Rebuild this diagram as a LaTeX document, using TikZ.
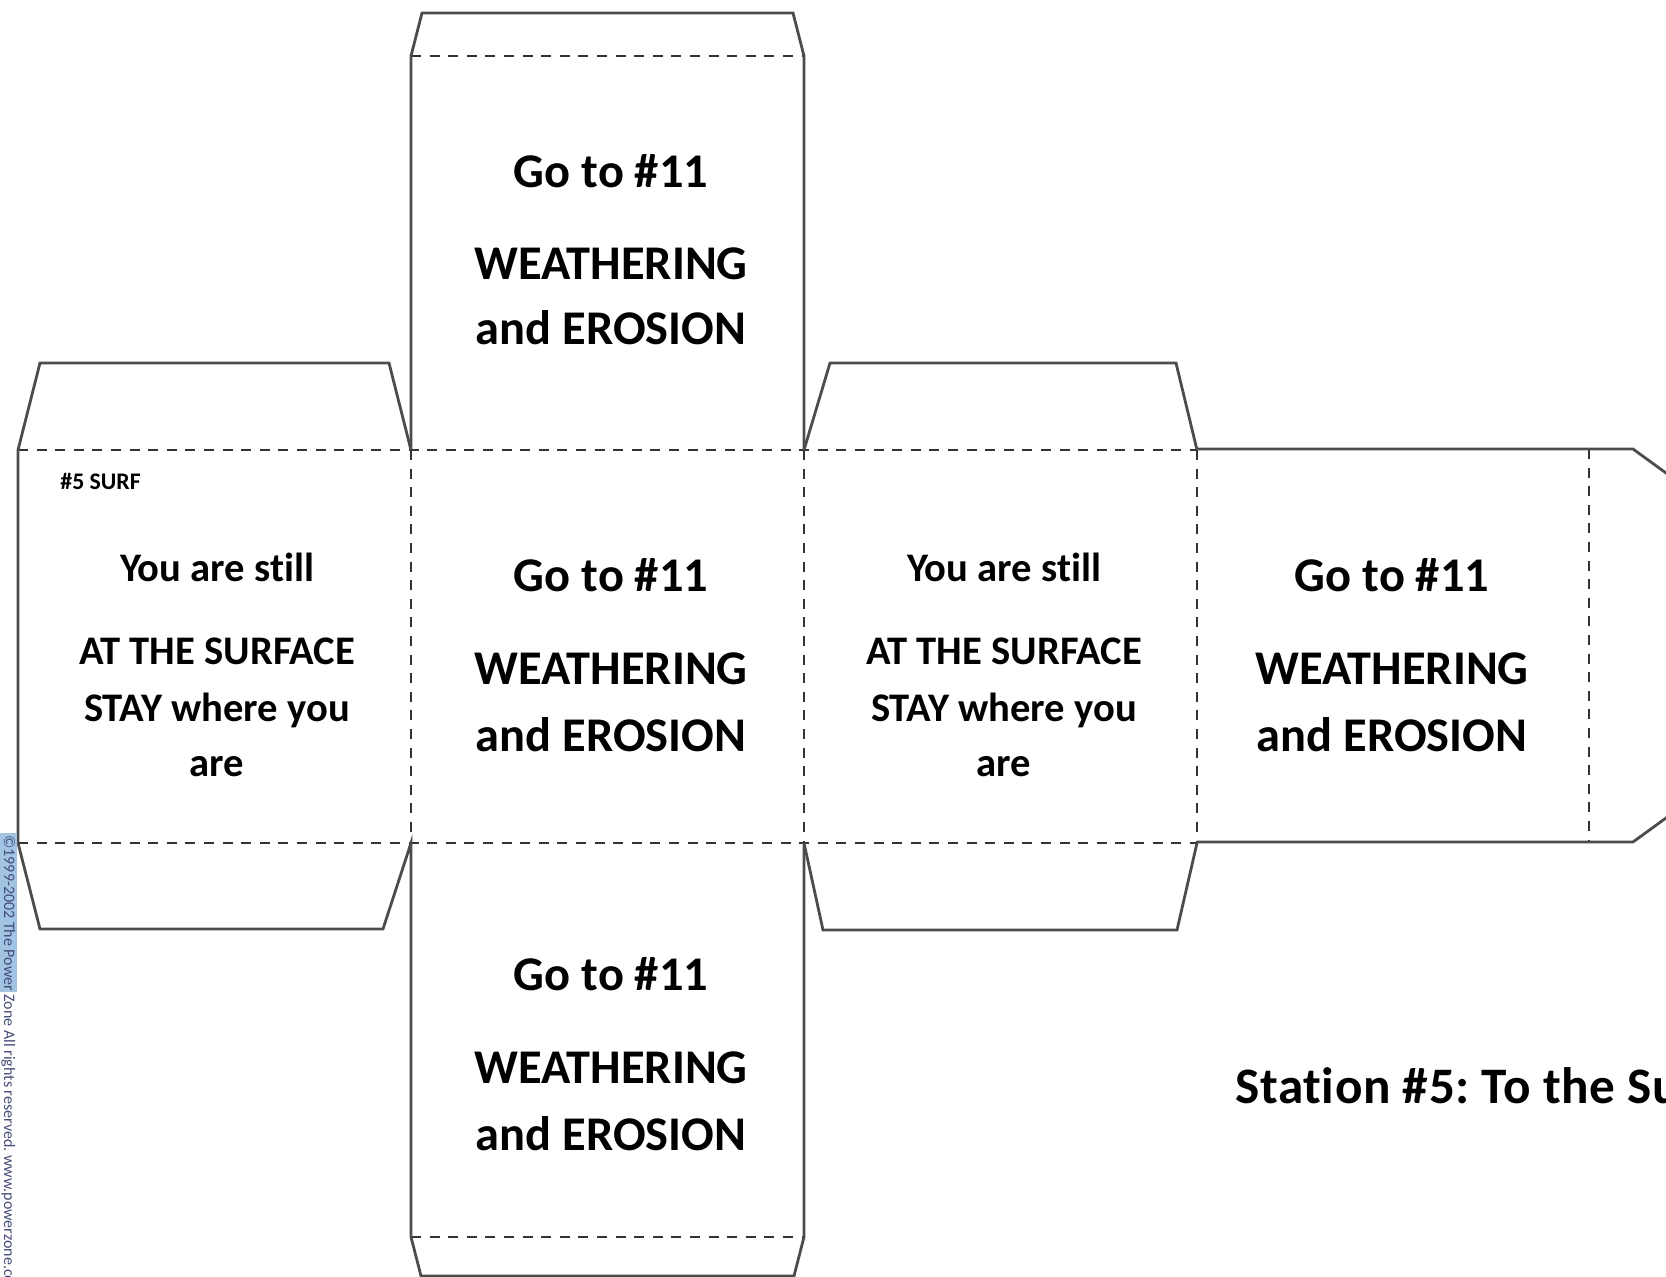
\documentclass[tikz,border=0pt]{standalone}
\usepackage{fontspec}
\setmainfont{Carlito}[Ligatures=NoCommon]
\newfontfamily\titlefont{Carlito}[Ligatures=NoCommon, LetterSpace=1.2]
\definecolor{cutcol}{gray}{0.30}
\definecolor{foldcol}{gray}{0.20}
\definecolor{hilite}{RGB}{160,196,226}
\definecolor{copycol}{RGB}{70,76,120}
\frenchspacing
\begin{document}
\begin{tikzpicture}[x=0.5pt,y=-0.5pt,
  cut/.style={draw=cutcol, line width=1.4pt, line join=miter},
  fold/.style={draw=foldcol, line width=1.25pt, dash pattern=on 5pt off 4.3pt},
  big/.style={font=\bfseries\fontsize{24.2pt}{28pt}\selectfont, anchor=base, inner sep=0pt},
  small/.style={font=\bfseries\fontsize{20.3pt}{24pt}\selectfont, anchor=base, inner sep=0pt},
]
\useasboundingbox (0,0) rectangle (1666,1277);
\clip (0,0) rectangle (1666,1277);

% fold lines
\draw[fold] (411,56) -- (804,56);
\draw[fold] (18,450) -- (1197,450);
\draw[fold] (18,843) -- (1197,843);
\draw[fold] (411,1237) -- (804,1237);
\draw[fold] (411,450) -- (411,843);
\draw[fold] (804,450) -- (804,843);
\draw[fold] (1197,450) -- (1197,843);
\draw[fold] (1589,449) -- (1589,842);

% cut lines
\draw[cut] (411,450) -- (411,56) -- (422,13) -- (793,13) -- (804,56) -- (804,450);
\draw[cut] (18,450) -- (40,363) -- (389,363) -- (411,450);
\draw[cut] (804,450) -- (830,363) -- (1176,363) -- (1197,450);
\draw[cut] (1197,449) -- (1633,449) -- (1710,505);
\draw[cut] (1197,842) -- (1633,842) -- (1710,786);
\draw[cut] (18,450) -- (18,843) -- (40,929) -- (383,929) -- (411,843) -- (411,1237) -- (421,1276) -- (794,1276) -- (804,1237) -- (804,843);
\draw[cut] (804,843) -- (823,930) -- (1177,930) -- (1197,843);

% face texts
\node[anchor=base west, inner sep=0pt, font=\bfseries\fontsize{11.9pt}{14pt}\selectfont] (lbl) at (60,490) {\#5 SURF};

\node[small] (a1) at (217,582) {You are still};
\node[small] (a2) at (217,665) {AT THE SURFACE};
\node[small] (a3) at (217,722) {STAY where you};
\node[small] (a4) at (217,777) {are};

\node[small] (b1) at (1004,582) {You are still};
\node[small] (b2) at (1004,665) {AT THE SURFACE};
\node[small] (b3) at (1004,722) {STAY where you};
\node[small] (b4) at (1004,777) {are};

\node[big] (t1) at (611,188) {Go to \#11};
\node[big] (t2) at (611,280) {WEATHERING};
\node[big] (t3) at (611,345) {and EROSION};

\node[big] (m1) at (611,592) {Go to \#11};
\node[big] (m2) at (611,685) {WEATHERING};
\node[big] (m3) at (611,752) {and EROSION};

\node[big] (r1) at (1392,592) {Go to \#11};
\node[big] (r2) at (1392,685) {WEATHERING};
\node[big] (r3) at (1392,752) {and EROSION};

\node[big] (d1) at (611,990) {Go to \#11};
\node[big] (d2) at (611,1083) {WEATHERING};
\node[big] (d3) at (611,1150) {and EROSION};

% title (cut off by the right edge, as in the original)
\node[anchor=base west, inner sep=0pt, font=\titlefont\bfseries\fontsize{25.6pt}{30pt}\selectfont] (title) at (1235,1103) {Station \#5: To the Surface};

% copyright strip
\fill[hilite] (0,833) rectangle (17,992);
\node[rotate=-90, anchor=base west, inner sep=0pt, text=copycol, font=\fontsize{8pt}{9pt}\selectfont] (copy) at (4,835) {©1999-2002 The Power Zone All rights reserved. www.powerzone.com};
\end{tikzpicture}
\end{document}
